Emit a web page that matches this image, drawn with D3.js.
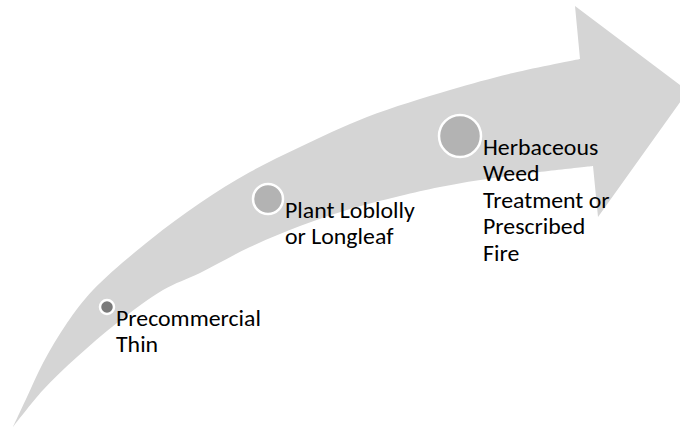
<!DOCTYPE html>
<html>
<head>
<meta charset="utf-8">
<script src="https://cdn.jsdelivr.net/npm/d3@7"></script>
<style>
  html, body { margin: 0; padding: 0; background: #fff; }
  svg { display: block; }
</style>
</head>
<body>
<div id="chart"></div>
<script>
// outline of the curved arrow, in picture units (0..680 x 0..432)
const arrowTop = [[13,427],[27,397],[43,363],[67,323],[93,290],[150,240],[200,203],[250,172],[300,147],[367,117],[450,90],[513,73],[580,59]]
const arrowBottom = [[593,166],[500,177],[440,187],[400,196],[350,209],[300,226],[250,247],[200,273],[163,290],[117,323],[77,357],[43,390],[13,427]]
const arrowHead = [[580,59],[575,6],[688,91],[598,217],[593,166]]

// the three steps along the arrow
const stepLabels = [
    ["Precommercial", "Thin"],
    ["Plant Loblolly", "or Longleaf"],
    ["Herbaceous", "Weed", "Treatment or", "Prescribed", "Fire"]
]
const stepX = [107, 268, 460]
const stepY = [307, 199, 136]
const stepR = [7, 15, 21]
const stepFill = ["#7a7a7a", "#b3b3b3", "#b3b3b3"]

const width = 680,
      height = 432

var x = d3.scaleLinear().domain([0, 680]).range([0, width]);
var y = d3.scaleLinear().domain([0, 432]).range([0, height]);

const svg = d3.select("#chart").append("svg")
    .attr("width", width)
    .attr("height", height);

// arrow body
const edge = d3.line()
    .x(d => x(d[0]))
    .y(d => y(d[1]))
    .curve(d3.curveCatmullRom.alpha(0.5));
const straight = d3.line()
    .x(d => x(d[0]))
    .y(d => y(d[1]));

const bodyPath = edge(arrowTop) + straight(arrowHead).replace("M", "L") +
    edge(arrowBottom).replace("M", "L") + "Z";

svg.append("path")
    .attr("d", bodyPath)
    .attr("fill", "#d5d5d5");

// Calibri is narrower than what we have: keep its height, squeeze the width
const font = "Calibri, Carlito, Lato, sans-serif";
const fontSize = 21.5;
const probe = svg.append("text")
    .attr("font-family", font)
    .attr("font-size", fontSize)
    .text("Precommercial");
const squeeze = 145 / probe.node().getComputedTextLength();
probe.remove();

const steps = stepLabels.map((lines, i) => ({
    lines: lines, cx: stepX[i], cy: stepY[i], r: stepR[i], fill: stepFill[i]
}));

const g = svg.selectAll("g.step")
    .data(steps)
    .enter().append("g")
    .attr("class", "step");

g.append("circle")
    .attr("cx", d => x(d.cx))
    .attr("cy", d => y(d.cy))
    .attr("r", d => d.r)
    .attr("fill", d => d.fill)
    .attr("stroke", "#fff")
    .attr("stroke-width", 2.5);

g.append("text")
    .attr("font-family", font)
    .attr("font-size", fontSize)
    .attr("fill", "#000")
    .attr("transform", d => `translate(${x(d.cx) + d.r + 2},${y(d.cy) + 19}) scale(${squeeze},1)`)
    .selectAll("tspan")
    .data(d => d.lines.map((t, j) => ({t: t, j: j})))
    .enter().append("tspan")
    .attr("x", 0)
    .attr("y", l => l.j * 26.5)
    .text(l => l.t);
</script>
</body>
</html>
